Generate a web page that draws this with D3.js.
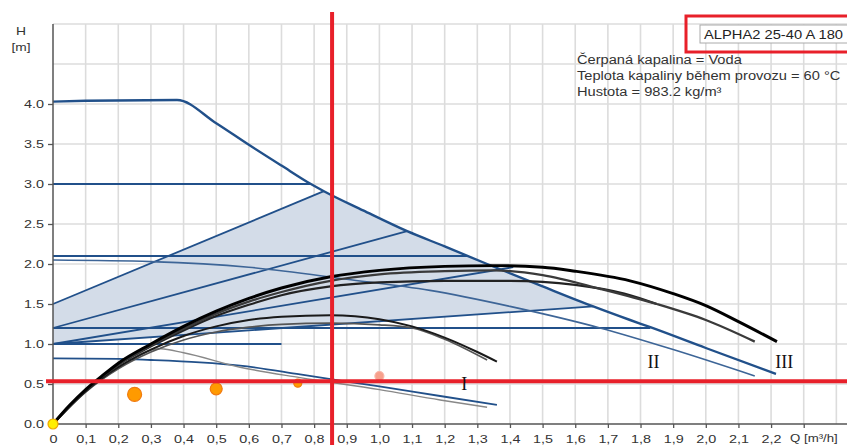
<!DOCTYPE html>
<html>
<head>
<meta charset="utf-8">
<script src="https://cdn.jsdelivr.net/npm/d3@7/dist/d3.min.js"></script>
<style>
  body { margin: 0; background: #fff; }
  svg { display: block; }
</style>
</head>
<body>
<svg id="chart" width="847" height="445"></svg>
<script>
// ---- axis ticks ----
const hTicks = [0, 0.5, 1.0, 1.5, 2.0, 2.5, 3.0, 3.5, 4.0];
const hGrid = [0.5, 1.0, 1.5, 2.0, 2.5, 3.0, 3.5, 4.0, 4.5, 5.0];
const qTicks = [0, 0.1, 0.2, 0.3, 0.4, 0.5, 0.6, 0.7, 0.8, 0.9, 1.0, 1.1, 1.2,
                1.3, 1.4, 1.5, 1.6, 1.7, 1.8, 1.9, 2.0, 2.1, 2.2, 2.3];
const qGrid = [0.1, 0.2, 0.3, 0.4, 0.5, 0.6, 0.7, 0.8, 0.9, 1.0, 1.1, 1.2, 1.3,
               1.4, 1.5, 1.6, 1.7, 1.8, 1.9, 2.0, 2.1, 2.2, 2.3, 2.4];

// ---- pump curves [Q m3/h, H m] ----
const curveIII = [[0, 4.03], [0.1, 4.04], [0.38, 4.05], [0.5, 3.76], [0.6, 3.49],
                  [0.7, 3.23], [0.79, 3.0], [0.83, 2.91], [0.95, 2.67], [1.085, 2.41], [1.2, 2.22],
                  [1.33, 2.0], [1.5, 1.72], [1.655, 1.47], [1.768, 1.3], [1.83, 1.21], [2.0, 0.95],
                  [2.215, 0.625]];
const curveII = [[0, 2.05], [0.3, 2.03], [0.6, 1.96], [0.9, 1.81], [1.155, 1.67], [1.4, 1.47],
                 [1.676, 1.2], [1.9, 0.93], [2.15, 0.6]];
const curveI = [[0, 0.82], [0.2, 0.815], [0.3, 0.8], [0.45, 0.77], [0.573, 0.73], [0.757, 0.62],
                [0.9, 0.53], [1.0, 0.47], [1.186, 0.35], [1.36, 0.24]];

// proportional pressure lines
const pp3 = [[0, 1.5], [0.83, 2.91]];
const pp2 = [[0, 1.2], [1.085, 2.41]];
const pp1 = [[0, 1.0], [1.41, 1.96]];
// constant pressure lines
const cp3 = [[0, 3.0], [0.79, 3.0]];
const cp2 = [[0, 2.1], [1.27, 2.1]];
const cp1 = [[0, 1.2], [1.83, 1.2]];
const cpMin = [[0, 1.0], [0.7, 1.0]];
// AUTOADAPT area lower edge
const aaLower = [[0, 1.0], [1.655, 1.47]];

// black curves from the origin
const blackA = [[0, 0], [0.05, 0.23], [0.1, 0.43], [0.15, 0.6], [0.2, 0.76], [0.3, 1.0], [0.4, 1.22],
                [0.5, 1.41], [0.6, 1.57], [0.7, 1.7], [0.85, 1.84], [1.0, 1.92], [1.2, 1.97],
                [1.35, 1.98], [1.5, 1.96], [1.6, 1.91], [1.768, 1.79], [1.9, 1.63], [2.0, 1.48],
                [2.1, 1.28], [2.218, 1.03]];
const blackB = [[0, 0], [0.05, 0.22], [0.1, 0.42], [0.2, 0.74], [0.3, 0.98], [0.4, 1.19], [0.5, 1.38],
                [0.6, 1.53], [0.7, 1.65], [0.85, 1.79], [1.0, 1.87], [1.2, 1.91], [1.35, 1.92],
                [1.5, 1.86], [1.676, 1.69], [1.85, 1.5], [2.0, 1.3], [2.15, 1.03]];
const blackC = [[0, 0], [0.1, 0.42], [0.2, 0.74], [0.3, 0.97], [0.4, 1.17], [0.5, 1.35], [0.6, 1.49],
                [0.7, 1.61], [0.85, 1.72], [1.0, 1.77], [1.2, 1.79], [1.4, 1.79], [1.6, 1.74],
                [1.75, 1.63], [1.85, 1.5]];
const blackD = [[0, 0], [0.1, 0.41], [0.2, 0.71], [0.3, 0.93], [0.4, 1.1], [0.5, 1.22], [0.6, 1.3],
                [0.7, 1.34], [0.85, 1.36], [1.0, 1.31], [1.1, 1.22], [1.2, 1.08], [1.3, 0.9],
                [1.36, 0.78]];
const greyE = [[0, 0], [0.1, 0.4], [0.2, 0.69], [0.3, 0.9], [0.4, 1.05], [0.5, 1.15], [0.6, 1.21],
               [0.7, 1.245], [0.85, 1.26], [1.0, 1.24], [1.1, 1.2], [1.2, 1.06], [1.33, 0.8]];
const greyF = [[0, 0], [0.1, 0.4], [0.2, 0.7], [0.27, 0.88], [0.33, 0.94], [0.4, 0.89],
               [0.573, 0.71], [0.757, 0.58], [1.0, 0.43], [1.186, 0.3], [1.33, 0.21]];

// measured duty points
const dutyQ = [0.25, 0.5, 0.75, 1.0];
const dutyH = [0.37, 0.44, 0.51, 0.6];

// selected duty marker
const markQ = 0.855;
const markH = 0.535;

const infoLines = ["Čerpaná kapalina = Voda",
                   "Teplota kapaliny během provozu = 60 °C",
                   "Hustota = 983.2 kg/m³"];
const pumpName = "ALPHA2 25-40 A 180";
const romanLabels = ["I", "II", "III"];
const romanQ = [1.26, 1.84, 2.24];
const romanH = [0.43, 0.7, 0.7];

// ---- drawing ----
const sans = "'Liberation Sans', Arial, sans-serif";
const serif = "'Liberation Serif', 'Times New Roman', serif";
const svg = d3.select("#chart");
const x = d3.scaleLinear().domain([0, 2.45]).range([53, 53 + 2.45 * 326.4]);
const y = d3.scaleLinear().domain([0, 5]).range([424, 24]);

// widen text horizontally
function stretch(sel, k) {
  sel.each(function () {
    const w = this.getComputedTextLength();
    this.setAttribute("textLength", (w * k).toFixed(1));
    this.setAttribute("lengthAdjust", "spacingAndGlyphs");
  });
}

const blue = "#21508a";
const line = d3.line().x(d => x(d[0])).y(d => y(d[1]));
const smooth = d3.line().x(d => x(d[0])).y(d => y(d[1])).curve(d3.curveMonotoneX);

// grid
const grid = svg.append("g").attr("stroke", "#dcdcdc").attr("stroke-width", 1.6);
grid.selectAll(".gv").data(qGrid).join("line")
  .attr("x1", d => x(d)).attr("x2", d => x(d)).attr("y1", y(0)).attr("y2", y(5));
grid.selectAll(".gh").data(hGrid).join("line")
  .attr("x1", x(0)).attr("x2", 847).attr("y1", d => y(d)).attr("y2", d => y(d));

// AUTOADAPT area
const upperEdge = [pp3[0]].concat(curveIII.filter(d => d[0] >= 0.83 && d[0] <= 1.655));
const area = upperEdge.concat(aaLower.slice().reverse());
svg.append("path").attr("d", line(area) + "Z")
  .attr("fill", "#d3dce8").attr("stroke", "none");

// blue lines
const blueG = svg.append("g").attr("fill", "none").attr("stroke", blue);
[pp3, pp2, pp1, cp3, cp2, cp1, cpMin, aaLower].forEach(d =>
  blueG.append("path").attr("d", line(d)).attr("stroke-width", 1.8));
blueG.append("path").attr("d", smooth(curveI)).attr("stroke-width", 1.8);
blueG.append("path").attr("d", smooth(curveII)).attr("stroke-width", 1.6).attr("stroke", "#3d6597");
blueG.append("path").attr("d", smooth(curveIII)).attr("stroke-width", 2.4);

// black curves
const blackG = svg.append("g").attr("fill", "none");
blackG.append("path").attr("d", smooth(greyF)).attr("stroke", "#888").attr("stroke-width", 1.4);
blackG.append("path").attr("d", smooth(greyE)).attr("stroke", "#555").attr("stroke-width", 1.7);
blackG.append("path").attr("d", smooth(blackD)).attr("stroke", "#1a1a1a").attr("stroke-width", 2);
blackG.append("path").attr("d", smooth(blackC)).attr("stroke", "#222").attr("stroke-width", 2.2);
blackG.append("path").attr("d", smooth(blackB)).attr("stroke", "#3a3a3a").attr("stroke-width", 2.3);
blackG.append("path").attr("d", smooth(blackA)).attr("stroke", "#000").attr("stroke-width", 2.9);

// axes
const yAxis = svg.append("g").attr("transform", `translate(${x(0)},0)`)
  .call(d3.axisLeft(y).tickValues(hTicks).tickFormat(d3.format(".1f"))
    .tickSize(5).tickPadding(4).tickSizeOuter(0));
const xAxis = svg.append("g").attr("transform", `translate(0,${y(0)})`)
  .call(d3.axisBottom(x).tickValues(qTicks)
    .tickFormat(d => d === 0 ? "0" : d > 2.25 ? "" : d3.format(".1f")(d).replace(".", ","))
    .tickSize(4).tickSizeOuter(0));
[yAxis, xAxis].forEach(g => {
  g.select(".domain").attr("stroke", "#555").attr("stroke-width", 1.5);
  g.selectAll(".tick line").attr("stroke", "#555").attr("stroke-width", 1.3);
  g.selectAll("text").attr("fill", "#333").attr("font-size", 11.5).attr("font-family", sans);
});
yAxis.select(".domain").attr("d", `M0,${y(0)}V${y(5)}`);
xAxis.select(".domain").attr("d", `M${x(0)},0H847`);
xAxis.selectAll(".tick text").attr("y", 10).attr("dy", "0.75em");
stretch(yAxis.selectAll(".tick text"), 1.25);
stretch(xAxis.selectAll(".tick text"), 1.25);

svg.append("text").attr("x", 790).attr("y", 442).attr("font-size", 11.5).attr("fill", "#333")
  .attr("font-family", sans).text("Q [m³/h]").call(stretch, 1.15);
svg.append("text").attr("x", 21).attr("y", 35).attr("font-size", 11.5).attr("fill", "#333")
  .attr("font-family", sans).attr("text-anchor", "middle").text("H").call(stretch, 1.2);
svg.append("text").attr("x", 21).attr("y", 51).attr("font-size", 11).attr("fill", "#333")
  .attr("font-family", sans).attr("text-anchor", "middle").text("[m]").call(stretch, 1.25);

// duty points
const radii = [7, 6, 4, 4.5];
const dots = svg.append("g");
dots.selectAll("circle").data(dutyQ).join("circle")
  .attr("cx", d => x(d)).attr("cy", (d, i) => y(dutyH[i])).attr("r", (d, i) => radii[i])
  .attr("fill", (d, i) => i === 3 ? "#f7a08c" : "#ff9a00")
  .attr("stroke", (d, i) => i === 3 ? "#f8b5a8" : "#f07a10").attr("stroke-width", 1.2);
svg.append("circle").attr("cx", x(0)).attr("cy", y(0)).attr("r", 5)
  .attr("fill", "#ffee00").attr("stroke", "#f0a800").attr("stroke-width", 1.2);

// selected marker lines
svg.append("line").attr("x1", x(markQ)).attr("x2", x(markQ)).attr("y1", 12).attr("y2", 445)
  .attr("stroke", "#e8202a").attr("stroke-width", 4);
svg.append("line").attr("x1", 46).attr("x2", 847).attr("y1", y(markH)).attr("y2", y(markH))
  .attr("stroke", "#e8202a").attr("stroke-width", 4);

// curve labels
svg.selectAll(".roman").data(romanLabels).join("text")
  .attr("x", (d, i) => x(romanQ[i])).attr("y", (d, i) => y(romanH[i])).attr("text-anchor", "middle")
  .attr("font-family", serif).attr("font-size", 18).attr("fill", "#111").text(d => d);

// product box
svg.append("rect").attr("x", 700).attr("y", 25).attr("width", 160).attr("height", 18)
  .attr("fill", "#fff").attr("stroke", "#aaa").attr("stroke-width", 1);
svg.append("text").attr("x", 704).attr("y", 38.5).attr("font-size", 13).attr("fill", "#222")
  .attr("font-family", sans).text(pumpName).attr("textLength", 139).attr("lengthAdjust", "spacingAndGlyphs");
svg.append("rect").attr("x", 686).attr("y", 16).attr("width", 170).attr("height", 36)
  .attr("fill", "none").attr("stroke", "#e8202a").attr("stroke-width", 3);

// fluid info
svg.selectAll(".info").data(infoLines).join("text")
  .attr("x", 577).attr("y", (d, i) => 64 + i * 16).attr("font-size", 12).attr("fill", "#333")
  .attr("font-family", sans).text(d => d).call(stretch, 1.22);
</script>
</body>
</html>
